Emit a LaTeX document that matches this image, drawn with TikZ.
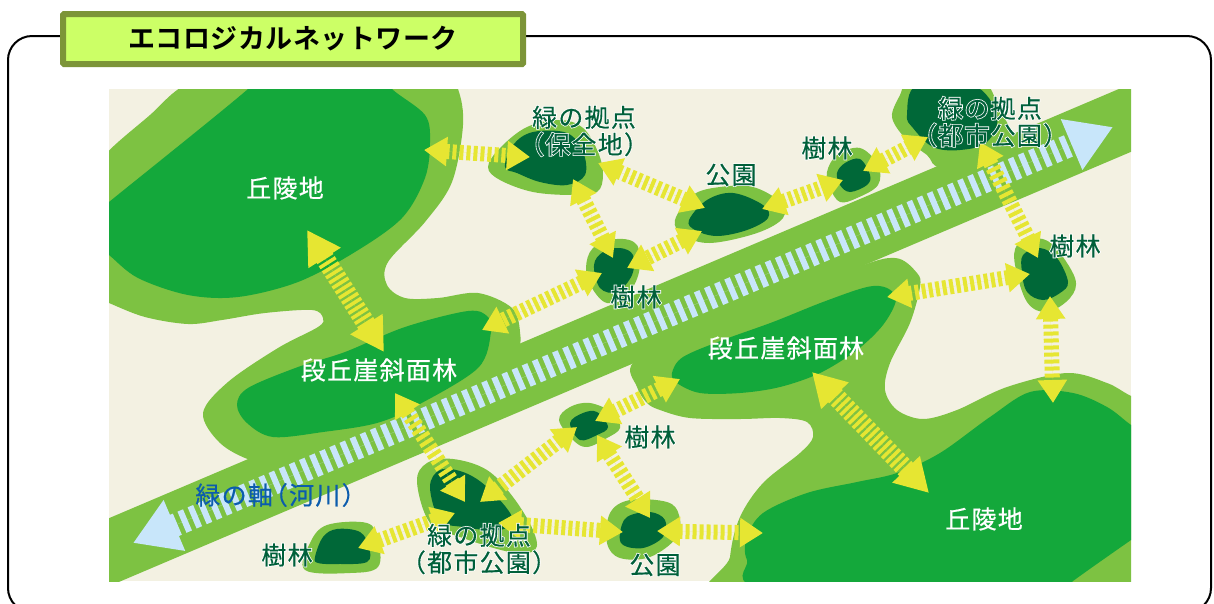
\documentclass[tikz,border=0pt]{standalone}
\usepackage{fontspec}
\usetikzlibrary{arrows.meta}
\setmainfont{Noto Sans CJK JP}
\newfontfamily\jpfont[LetterSpace=5,FakeBold=0.4]{Noto Sans CJK JP}
\newfontfamily\halofont[LetterSpace=5,FakeBold=7,Color=FFFFFF]{Noto Sans CJK JP}
\newfontfamily\titlefont[LetterSpace=2]{Noto Sans CJK JP Bold}
\definecolor{cream}{HTML}{F3F1E2}
\definecolor{lightgreen}{HTML}{7DC242}
\definecolor{midgreen}{HTML}{14A83B}
\definecolor{deepgreen}{HTML}{006838}
\definecolor{ylw}{HTML}{E6E632}
\definecolor{riverblue}{HTML}{C8E6FA}
\definecolor{labelgreen}{HTML}{00603A}
\definecolor{labelblue}{HTML}{0B5CAD}
\definecolor{titlefill}{HTML}{CCFF66}
\definecolor{titleedge}{HTML}{7C9438}
\newcommand\hl[1]{\rlap{\halofont #1}#1}
\tikzset{
  outerland/.style={fill=lightgreen},
  midland/.style={fill=midgreen},
  deepland/.style={fill=deepgreen},
  link/.style={draw=ylw,fill=ylw,line width=15pt,dash pattern=on 4pt off 3pt,
    {Triangle[length=23pt,width=28pt]}-{Triangle[length=23pt,width=28pt]}},
  biglink/.style={draw=ylw,fill=ylw,line width=19pt,dash pattern=on 3.5pt off 2.5pt,
    {Triangle[length=33pt,width=36pt]}-{Triangle[length=33pt,width=36pt]}},
  riverlink/.style={draw=riverblue,fill=riverblue,line width=23pt,dash pattern=on 6pt off 5pt,
    {Triangle[length=45pt,width=52pt]}-{Triangle[length=45pt,width=52pt]}},
  whitelabel/.style={text=white,inner sep=0pt,font=\fontsize{25}{27}\selectfont\jpfont},
  greenlabel/.style={text=labelgreen,inner sep=0pt,align=center,font=\fontsize{25}{27}\selectfont\jpfont},
  bluelabel/.style={text=labelblue,inner sep=0pt,font=\fontsize{25}{27}\selectfont\jpfont},
  titlebox/.style={draw=titleedge,fill=titlefill,line width=6pt,rounded corners=1pt,
    minimum width=460pt,minimum height=50pt,inner sep=0pt,text=black,font=\fontsize{27}{30}\selectfont\titlefont},
}
\begin{document}
\begin{tikzpicture}[x=1pt,y=-1pt]
\useasboundingbox (0,0) rectangle (1214,603);
\draw[black,line width=2pt,fill=white,rounded corners=24pt] (8,36) rectangle (1211,612);
\fill[cream] (109,89) rectangle (1131,581);
\begin{scope}
\clip (109,89) rectangle (1131,581);
% light green land
\fill[outerland] plot[smooth cycle,tension=0.55] coordinates {(100,160)(150,115)(185,85)(250,60)(440,60)(458,89)(463,125)(452,182)(425,222)(388,262)(387,285)(405,298)(438,298)(478,293)(512,308)(520,332)(516,353)(480,400)(300,470)(253,461)(220,443)(203,413)(228,382)(278,348)(318,327)(323,318)(312,310)(265,313)(222,320)(188,324)(145,317)(109,303)(80,290)(60,220)};
\fill[outerland] plot[smooth cycle,tension=0.55] coordinates {(895,258)(917,273)(920,287)(910,323)(890,363)(885,390)(897,410)(923,419)(957,410)(1007,387)(1067,373)(1107,383)(1131,396)(1180,420)(1200,620)(728,620)(730,557)(740,517)(763,483)(800,453)(813,437)(807,422)(780,418)(740,419)(690,418)(660,410)(647,403)(637,387)(634,362)(700,330)(850,270)};
\fill[outerland] plot[smooth cycle,tension=0.55] coordinates {(892,117)(900,95)(915,70)(975,70)(1000,110)(1010,145)(943,167)(927,155)(905,138)};
\fill[outerland] (100,522) -- (1140,80) -- (1140,148) -- (100,590) -- cycle;
\fill[outerland] plot[smooth cycle,tension=0.6] coordinates {(488,167)(500,148)(527,127)(560,120)(583,128)(598,152)(603,175)(597,192)(573,195)(533,192)(500,180)};
\fill[outerland] plot[smooth cycle,tension=0.6] coordinates {(675,220)(693,195)(720,187)(753,187)(780,202)(783,218)(757,233)(710,243)(683,235)};
\fill[outerland] plot[smooth cycle,tension=0.6] coordinates {(586,268)(593,248)(617,239)(637,245)(639,272)(627,295)(607,303)(592,288)};
\fill[outerland] plot[smooth cycle,tension=0.6] coordinates {(827,172)(837,155)(860,148)(878,165)(878,185)(857,198)(840,202)(830,188)};
\fill[outerland] plot[smooth cycle,tension=0.6] coordinates {(1015,265)(1017,245)(1033,238)(1053,245)(1075,278)(1070,298)(1047,312)(1027,302)};
\fill[outerland] plot[smooth cycle,tension=0.6] coordinates {(417,482)(427,463)(453,459)(487,470)(513,497)(533,530)(535,550)(510,552)(460,537)(430,523)};
\fill[outerland] plot[smooth cycle,tension=0.6] coordinates {(305,570)(310,543)(327,525)(367,523)(378,540)(378,567)(350,573)};
\fill[outerland] plot[smooth cycle,tension=0.6] coordinates {(559,420)(570,407)(590,403)(613,413)(620,428)(607,438)(587,447)(573,440)};
\fill[outerland] plot[smooth cycle,tension=0.6] coordinates {(607,543)(610,513)(630,500)(667,502)(679,515)(677,537)(650,557)(620,558)};
% mid green land
\fill[midland] plot[smooth cycle,tension=0.55] coordinates {(90,218)(109,202)(248,89)(260,70)(380,70)(392,89)(425,115)(430,142)(425,178)(402,218)(355,252)(298,282)(238,297)(188,295)(138,278)(109,255)(90,240)};
\fill[midland] plot[smooth cycle,tension=0.55] coordinates {(237,405)(248,388)(298,367)(345,352)(405,327)(468,311)(488,317)(491,332)(478,368)(418,405)(377,423)(323,432)(273,437)(247,423)};
\fill[midland] plot[smooth cycle,tension=0.55] coordinates {(672,373)(683,357)(723,340)(773,322)(823,302)(867,287)(887,288)(896,300)(883,325)(857,350)(820,373)(780,387)(740,393)(700,393)(677,383)};
\fill[midland] plot[smooth cycle,tension=0.55] coordinates {(770,590)(747,560)(747,537)(763,513)(807,493)(857,482)(897,473)(940,453)(990,417)(1030,392)(1073,393)(1107,407)(1131,425)(1160,445)(1160,520)(1131,540)(1073,581)(1050,600)};
% deep green land
\fill[deepland] plot[smooth cycle,tension=0.6] coordinates {(505,167)(513,145)(533,132)(567,133)(583,152)(585,175)(567,185)(540,182)(517,173)};
\fill[deepland] plot[smooth cycle,tension=0.6] coordinates {(689,220)(707,200)(733,193)(763,205)(768,218)(747,230)(717,236)(695,230)};
\fill[deepland] plot[smooth cycle,tension=0.6] coordinates {(594,265)(603,252)(620,248)(633,255)(632,275)(617,292)(600,288)};
\fill[deepland] plot[smooth cycle,tension=0.6] coordinates {(837,173)(845,163)(860,159)(870,175)(867,185)(850,192)(840,185)};
\fill[deepland] plot[smooth cycle,tension=0.6] coordinates {(907,115)(917,85)(973,85)(997,115)(987,142)(960,150)(933,147)(913,128)};
\fill[deepland] plot[smooth cycle,tension=0.6] coordinates {(1022,272)(1023,255)(1040,248)(1057,258)(1068,282)(1060,293)(1043,300)(1027,292)};
\fill[deepland] plot[smooth cycle,tension=0.6] coordinates {(430,487)(440,470)(463,472)(487,487)(512,517)(500,530)(463,527)(440,520)};
\fill[deepland] plot[smooth cycle,tension=0.6] coordinates {(315,557)(323,537)(337,529)(360,532)(369,547)(367,562)(337,564)(318,563)};
\fill[deepland] plot[smooth cycle,tension=0.6] coordinates {(570,423)(583,413)(597,412)(608,427)(597,435)(580,440)};
\fill[deepland] plot[smooth cycle,tension=0.6] coordinates {(620,533)(627,517)(650,512)(665,520)(663,537)(643,548)(623,545)};
\end{scope}
% river axis
\coordinate (riverW) at (133,543);
\coordinate (riverE) at (1113,127);
\draw[riverlink] (riverW) -- (riverE);
% link ends
\coordinate (hillNW) at (307,230);
\coordinate (slopeW) at (384,352);
\coordinate (hillNE) at (424,150);
\coordinate (coreN) at (530,157);
\coordinate (coreS) at (573,179);
\coordinate (woodNa) at (613,258);
\coordinate (coreE) at (598,163);
\coordinate (parkNw) at (705,208);
\coordinate (parkSw) at (702,231);
\coordinate (woodNb) at (627,268);
\coordinate (woodNc) at (602,273);
\coordinate (slopeE) at (482,330);
\coordinate (parkNe) at (762,209);
\coordinate (woodTa) at (843,180);
\coordinate (woodTb) at (863,171);
\coordinate (cityNw) at (928,137);
\coordinate (cityNs) at (980,142);
\coordinate (woodEa) at (1038,258);
\coordinate (woodEb) at (1030,274);
\coordinate (slope2N) at (887,297);
\coordinate (woodEc) at (1050,296);
\coordinate (hillSN) at (1053,403);
\coordinate (slope2S) at (812,372);
\coordinate (hillSW) at (929,493);
\coordinate (slope2W) at (680,379);
\coordinate (woodMa) at (595,421);
\coordinate (woodMb) at (577,427);
\coordinate (cityS) at (480,502);
\coordinate (woodMc) at (597,435);
\coordinate (parkSa) at (650,518);
\coordinate (cityE) at (498,523);
\coordinate (parkSb) at (623,532);
\coordinate (parkSc) at (657,531);
\coordinate (hillSa) at (763,533);
\coordinate (cityW) at (455,513);
\coordinate (woodWa) at (358,548);
\coordinate (slopeS) at (395,393);
\coordinate (cityN) at (465,502);
% links
\draw[biglink] (hillNW) -- (slopeW);
\draw[biglink] (slope2S) -- (hillSW);
\draw[link] (hillNE) -- (coreN);
\draw[link] (coreS) -- (woodNa);
\draw[link] (coreE) -- (parkNw);
\draw[link] (parkSw) -- (woodNb);
\draw[link] (woodNc) -- (slopeE);
\draw[link] (parkNe) -- (woodTa);
\draw[link] (woodTb) -- (cityNw);
\draw[link] (cityNs) -- (woodEa);
\draw[link] (woodEb) -- (slope2N);
\draw[link] (woodEc) -- (hillSN);
\draw[link] (slope2W) -- (woodMa);
\draw[link] (woodMb) -- (cityS);
\draw[link] (woodMc) -- (parkSa);
\draw[link] (cityE) -- (parkSb);
\draw[link] (parkSc) -- (hillSa);
\draw[link] (cityW) -- (woodWa);
\draw[link] (slopeS) -- (cityN);
% labels
\node[whitelabel] (hillA) at (285,188) {丘陵地};
\node[whitelabel] (hillB) at (984,519) {丘陵地};
\node[whitelabel] (slopeA) at (379,370) {段丘崖斜面林};
\node[whitelabel] (slopeB) at (786,348) {段丘崖斜面林};
\node[greenlabel] (coreL) at (584,131) {\hl{緑の拠点}\\\hl{（保全地）}};
\node[greenlabel] (parkL) at (731,175) {\hl{公園}};
\node[greenlabel] (woodTL) at (827,148) {\hl{樹林}};
\node[greenlabel] (cityTL) at (990,122) {\hl{緑の拠点}\\\hl{（都市公園）}};
\node[greenlabel] (woodEL) at (1075,246) {\hl{樹林}};
\node[greenlabel] (woodNL) at (636,297) {\hl{樹林}};
\node[greenlabel] (woodML) at (650,437) {\hl{樹林}};
\node[greenlabel] (woodWL) at (287,555) {\hl{樹林}};
\node[greenlabel] (cityBL) at (479,549) {\hl{緑の拠点}\\\hl{（都市公園）}};
\node[greenlabel] (parkBL) at (655,565) {\hl{公園}};
\node[bluelabel] (riverL) at (281,495) {緑の軸\kern-10pt（河川）};
\node[titlebox] (title) at (293,39) {エコロジカルネットワーク};
\end{tikzpicture}
\end{document}
